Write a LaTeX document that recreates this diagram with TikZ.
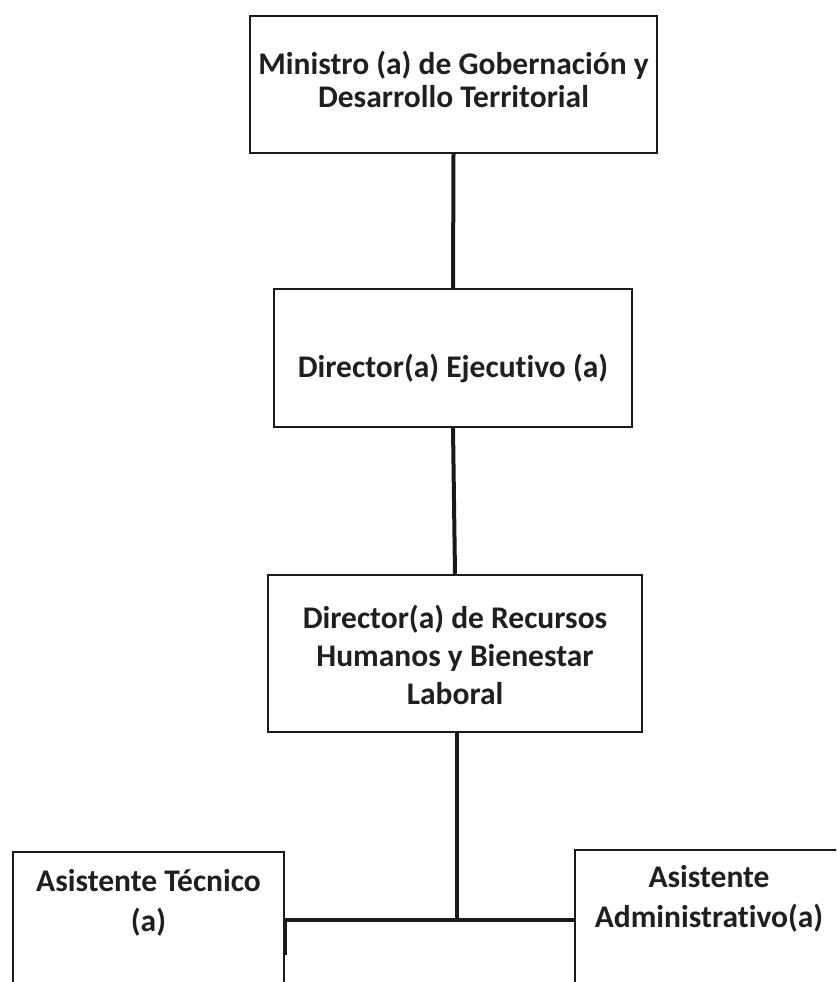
\documentclass[tikz,border=0pt]{standalone}
\usepackage{fontspec}
\setmainfont{Carlito}[Ligatures=NoCommon]
\begin{document}
\begin{tikzpicture}[x=1pt,y=-1pt,
  unit/.style={draw=black!90, line width=1.5pt, inner sep=0pt},
  caption/.style={font=\bfseries\fontsize{31.5}{#1}\selectfont, text=black!88, align=center},
  link/.style={draw=black!90, line width=4pt}]
\useasboundingbox (0,0) rectangle (836,982);
\clip (0,0) rectangle (836,982);

% chain of command
\node[unit, minimum width=407pt, minimum height=137pt,
      label={[caption=33, yshift=5pt]center:Ministro (a) de Gobernación y\\Desarrollo Territorial}]
  (min) at (453.5,84.5) {};

\node[unit, minimum width=358pt, minimum height=138pt,
      label={[caption=33, yshift=-10pt]center:Director(a) Ejecutivo (a)}]
  (dir) at (453,358) {};

\node[unit, minimum width=374pt, minimum height=157pt,
      label={[caption=38, yshift=-1pt]center:Director(a) de Recursos\\Humanos y Bienestar\\Laboral}]
  (rrhh) at (455,653.5) {};

% assistants
\node[unit, minimum width=271pt, minimum height=200pt,
      label={[caption=40, yshift=49pt]center:Asistente Técnico\\(a)}]
  (tec) at (148.5,952) {};

\node[unit, minimum width=268pt, minimum height=200pt,
      label={[caption=40, yshift=51pt]center:Asistente\\Administrativo(a)}]
  (adm) at (709,950) {};

% connectors
\coordinate (fork) at (457,920);
\coordinate (tecfork) at (tec.east |- fork);
\draw[link] (min.south) -- (dir.north);
\draw[link] (dir.south) -- (rrhh.north);
\draw[link] (rrhh.south -| fork) -- (fork);
\draw[link] ([yshift=-35pt]tecfork) -- (tecfork) -- (adm.west |- fork);
\end{tikzpicture}
\end{document}
